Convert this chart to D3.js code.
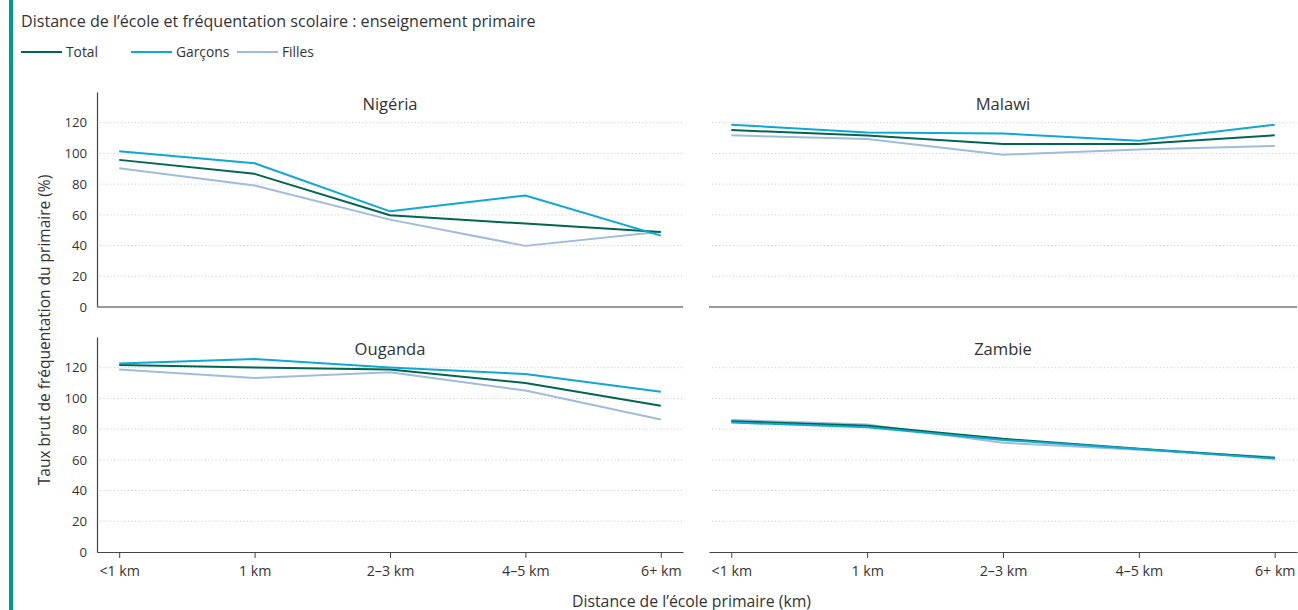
<!DOCTYPE html>
<html><head><meta charset="utf-8">
<script src="https://cdn.jsdelivr.net/npm/d3@7"></script>
<style>
body{margin:0;background:#fff;}
svg text{font-family:"Open Sans",sans-serif;fill:#333;}
</style></head>
<body><svg id="chart" width="1298" height="610"></svg>
<script>
const categories = ["<1 km","1 km","2–3 km","4–5 km","6+ km"];
const countries = ["Nigéria","Malawi","Ouganda","Zambie"];
const seriesNames = ["Total","Garçons","Filles"];
const yTicks = [0,20,40,60,80,100,120];

const nigeriaTotal   = [95.8, 86.7, 59.7, 54.3, 48.9];
const nigeriaGarcons = [101.4, 93.6, 62.3, 72.6, 46.5];
const nigeriaFilles  = [90.4, 79.1, 56.9, 39.8, 49.0];
const malawiTotal    = [115.2, 111.6, 106.2, 106.2, 111.8];
const malawiGarcons  = [118.7, 113.7, 113.0, 108.3, 118.7];
const malawiFilles   = [111.8, 109.4, 99.2, 102.5, 104.9];
const ougandaTotal   = [121.7, 120.2, 118.9, 110.1, 95.3];
const ougandaGarcons = [122.8, 125.6, 120.2, 115.9, 104.4];
const ougandaFilles  = [118.9, 113.3, 117.0, 105.1, 86.3];
const zambieTotal    = [85.2, 82.2, 73.7, 67.2, 61.2];
const zambieGarcons  = [84.3, 81.3, 73.0, 67.0, 60.8];
const zambieFilles   = [86.0, 83.0, 71.1, 66.5, 61.8];

const panelData = [
  [nigeriaTotal, nigeriaGarcons, nigeriaFilles],
  [malawiTotal, malawiGarcons, malawiFilles],
  [ougandaTotal, ougandaGarcons, ougandaFilles],
  [zambieTotal, zambieGarcons, zambieFilles]
];
const colors = ["#00664f","#0fa8d2","#9fbcdc"];

const svg = d3.select("#chart");

// left accent bar
svg.append("rect").attr("x",9).attr("y",0).attr("width",4).attr("height",610).attr("fill","#00999a");

// title
svg.append("text").attr("x",21).attr("y",26.5).style("font-size","16.1px").text("Distance de l’école et fréquentation scolaire : enseignement primaire");

// legend
const legX = [21,131,237];
seriesNames.forEach((n,i)=>{
  svg.append("line").attr("x1",legX[i]).attr("x2",legX[i]+41).attr("y1",52).attr("y2",52)
    .attr("stroke",colors[i]).attr("stroke-width",2);
  svg.append("text").attr("x",legX[i]+45).attr("y",57).style("font-size","13.8px").text(n);
});

const cols = [[97,683],[709,1297]];
const rows = [[92,307],[337,552]];

countries.forEach((c,k)=>{
  const col = k%2, row = Math.floor(k/2);
  const [x0,x1] = cols[col], [yTop,yBot] = rows[row];
  const x = d3.scalePoint().domain(categories).range([x0,x1]).padding(0.164);
  const y = d3.scaleLinear().domain([0,140]).range([yBot,yTop]);
  const g = svg.append("g");
  // grid
  g.selectAll("line.grid").data(yTicks.filter(t=>t>0)).join("line")
    .attr("x1",x0+3).attr("x2",x1).attr("y1",d=>y(d)).attr("y2",d=>y(d))
    .attr("stroke","#c8c8c8").attr("stroke-width",1).attr("stroke-dasharray","1,2.5");
  // y axis (left column only)
  if(col===0){
    const ya = g.append("g").attr("transform",`translate(${x0},0)`)
      .call(d3.axisLeft(y).tickValues(yTicks).tickSize(0).tickPadding(10));
    ya.select(".domain").attr("stroke","#444").attr("stroke-width",1.2);
    ya.selectAll("text").style("font-size","13.2px").style("font-family","Open Sans").attr("fill","#333");
  }
  // x axis
  if(row===1){
    const xa = g.append("g").attr("transform",`translate(0,${yBot})`)
      .call(d3.axisBottom(x).tickSizeOuter(0).tickSizeInner(6).tickPadding(8));
    xa.select(".domain").attr("stroke","#444").attr("stroke-width",1.2);
    xa.selectAll(".tick line").attr("stroke","#444");
    xa.selectAll("text").style("font-size","14.2px").style("font-family","Open Sans").attr("fill","#333");
  } else {
    g.append("line").attr("x1",x0).attr("x2",x1).attr("y1",yBot).attr("y2",yBot)
      .attr("stroke","#777").attr("stroke-width",1.6);
  }
  // title
  g.append("text").attr("x",(x(categories[0])+x(categories[4]))/2).attr("y",yTop+17.5)
    .attr("text-anchor","middle").style("font-size","16.6px").text(c);
  // lines (draw Filles, Total, Garçons order)
  const line = d3.line().x((d,i)=>x(categories[i])).y(d=>y(d));
  [2,0,1].forEach(s=>{
    g.append("path").datum(panelData[k][s]).attr("d",line)
      .attr("fill","none").attr("stroke",colors[s]).attr("stroke-width",2).attr("stroke-linejoin","round");
  });
});

// axis titles
svg.append("text").attr("transform","translate(50,330) rotate(-90)").attr("text-anchor","middle")
  .style("font-size","15.5px").text("Taux brut de fréquentation du primaire (%)");
svg.append("text").attr("x",691.5).attr("y",606.5).attr("text-anchor","middle")
  .style("font-size","15.8px").text("Distance de l’école primaire (km)");
</script></body></html>
